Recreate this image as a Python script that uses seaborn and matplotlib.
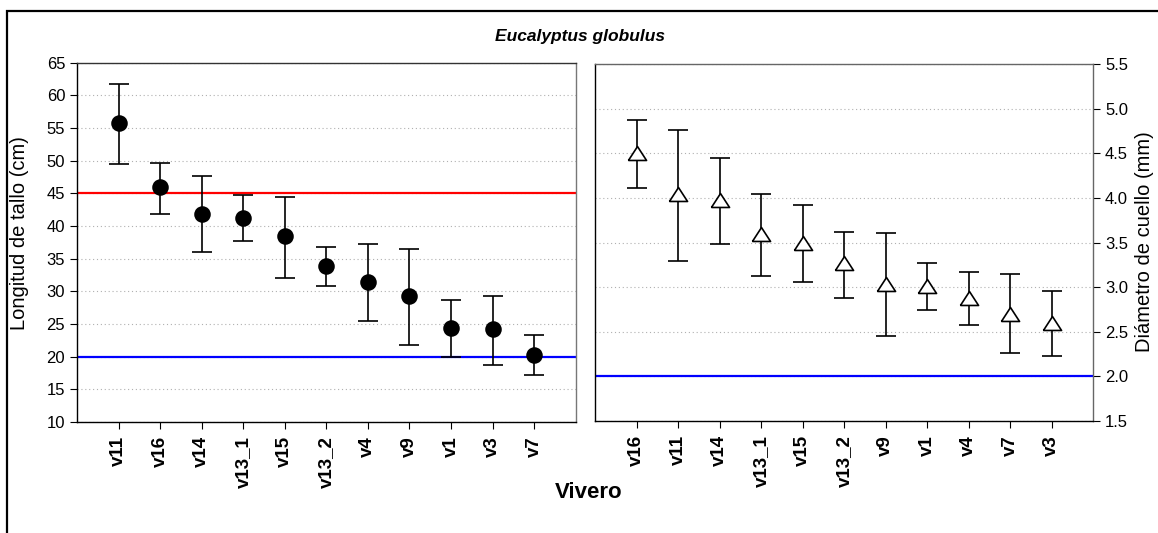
import matplotlib
matplotlib.use("Agg")
import matplotlib.pyplot as plt
import seaborn as sns
import pandas as pd
import numpy as np
from matplotlib.patches import Rectangle
from matplotlib.ticker import FormatStrFormatter, MultipleLocator

# ---- data ----
cats_L = ['v11', 'v16', 'v14', 'v13_1', 'v15', 'v13_2', 'v4', 'v9', 'v1', 'v3', 'v7']
mean_L = [55.7, 46.0, 41.9, 41.3, 38.4, 33.9, 31.5, 29.3, 24.4, 24.2, 20.3]
low_L = [49.5, 41.9, 36.0, 37.7, 32.1, 30.8, 25.4, 21.8, 19.9, 18.8, 17.2]
high_L = [61.7, 49.7, 47.6, 44.7, 44.4, 36.8, 37.3, 36.5, 28.6, 29.3, 23.3]

cats_R = ['v16', 'v11', 'v14', 'v13_1', 'v15', 'v13_2', 'v9', 'v1', 'v4', 'v7', 'v3']
mean_R = [4.50, 4.04, 3.98, 3.60, 3.50, 3.27, 3.04, 3.01, 2.88, 2.70, 2.60]
low_R = [4.11, 3.29, 3.49, 3.13, 3.06, 2.88, 2.45, 2.74, 2.58, 2.26, 2.23]
high_R = [4.87, 4.76, 4.45, 4.04, 3.92, 3.62, 3.61, 3.27, 3.17, 3.15, 2.96]

ref_L = [45, 20]
ref_R = [2.0]
ref_colors_L = ['#ff0000', '#0000ff']
ref_colors_R = ['#0000ff']

title = 'Eucalyptus globulus'
xlabel = 'Vivero'
ylabel_L = 'Longitud de tallo (cm)'
ylabel_R = 'Diámetro de cuello (mm)'

# ---- style ----
sns.set_theme(style='white')
plt.rcParams['font.family'] = ['Liberation Sans', 'DejaVu Sans']
plt.rcParams['text.color'] = 'black'
plt.rcParams['axes.labelcolor'] = 'black'
plt.rcParams['xtick.color'] = 'black'
plt.rcParams['ytick.color'] = 'black'

fig = plt.figure(figsize=(11.58, 5.33), dpi=100)
axL = fig.add_axes([77 / 1158, 1 - 422 / 533, 498.7 / 1158, 359.3 / 533])
axR = fig.add_axes([595 / 1158, 1 - 421 / 533, 498.3 / 1158, 356.7 / 533])

dfL = pd.DataFrame({'cat': cats_L, 'm': mean_L, 'lo': low_L, 'hi': high_L})
dfR = pd.DataFrame({'cat': cats_R, 'm': mean_R, 'lo': low_R, 'hi': high_R})

tri = [(-1, -0.77), (1, -0.77), (0, 0.77), (-1, -0.77)]


def panel(ax, df, ylim, step, refs, rcols, marker, fc, s, ec):
    x = np.arange(len(df))
    for r, c in zip(refs, rcols):
        ax.axhline(r, color=c, lw=1.6, zorder=2)
    ax.errorbar(x, df['m'], yerr=[df['m'] - df['lo'], df['hi'] - df['m']],
                fmt='none', ecolor='black', elinewidth=1.2, capsize=7.5,
                capthick=1.2, zorder=3)
    sns.scatterplot(data=df, x=x, y='m', ax=ax, marker=marker, s=s,
                    color=fc, edgecolor=ec, linewidth=1.2, zorder=4, legend=False)
    ax.set_xlim(-1, 11)
    ax.set_ylim(*ylim)
    ax.yaxis.set_major_locator(MultipleLocator(step))
    ax.set_xticks(x)
    ax.set_xticklabels(df['cat'], rotation=90, fontweight='bold', fontsize=13.5)
    ax.grid(axis='y', which='major', ls=(0, (1, 2.5)), color='#b0b0b0', lw=0.8)
    ax.set_axisbelow(True)
    ax.set_xlabel('')
    ax.set_ylabel('')
    ax.tick_params(axis='both', which='major', direction='out', length=5,
                   width=0.8, color='black', labelsize=12, bottom=True)
    ax.tick_params(axis='x', pad=5, labelsize=13.5)
    for sp in ['left', 'bottom', 'top', 'right']:
        ax.spines[sp].set_visible(True)
        ax.spines[sp].set_linewidth(1.0)


panel(axL, dfL, (10, 65), 5, ref_L, ref_colors_L, 'o', 'black', 115, 'black')
panel(axR, dfR, (1.5, 5.5), 0.5, ref_R, ref_colors_R, tri, 'white', 170, 'black')

axL.tick_params(axis='y', left=True, right=False)
axL.spines['left'].set_color('black')
axL.spines['bottom'].set_color('black')
axL.spines['top'].set_color('#333333')
axL.spines['right'].set_color('#777777')

axR.yaxis.tick_right()
axR.tick_params(axis='y', right=True, left=False)
axR.yaxis.set_major_formatter(FormatStrFormatter('%.1f'))
axR.spines['left'].set_color('black')
axR.spines['bottom'].set_color('black')
axR.spines['top'].set_color('#666666')
axR.spines['right'].set_color('#666666')

fig.text(20 / 1158, 1 - 233 / 533, ylabel_L, rotation=90, ha='center', va='center',
         fontsize=14.5)
fig.text(1145 / 1158, 1 - 242 / 533, ylabel_R, rotation=90, ha='center', va='center',
         fontsize=14.5)
fig.text(580 / 1158, 1 - 37 / 533, title, ha='center', va='center',
         fontsize=12.5, fontweight='bold', fontstyle='italic')
fig.text(589 / 1158, 1 - 492 / 533, xlabel, ha='center', va='center',
         fontsize=16, fontweight='bold')

fig.patches.append(Rectangle((6.5 / 1158, -0.2), 2.0, 1.2 - 11 / 533,
                             transform=fig.transFigure, fill=False,
                             edgecolor='black', lw=1.6, clip_on=False))

fig.savefig('out.png', dpi=100, facecolor='white')
